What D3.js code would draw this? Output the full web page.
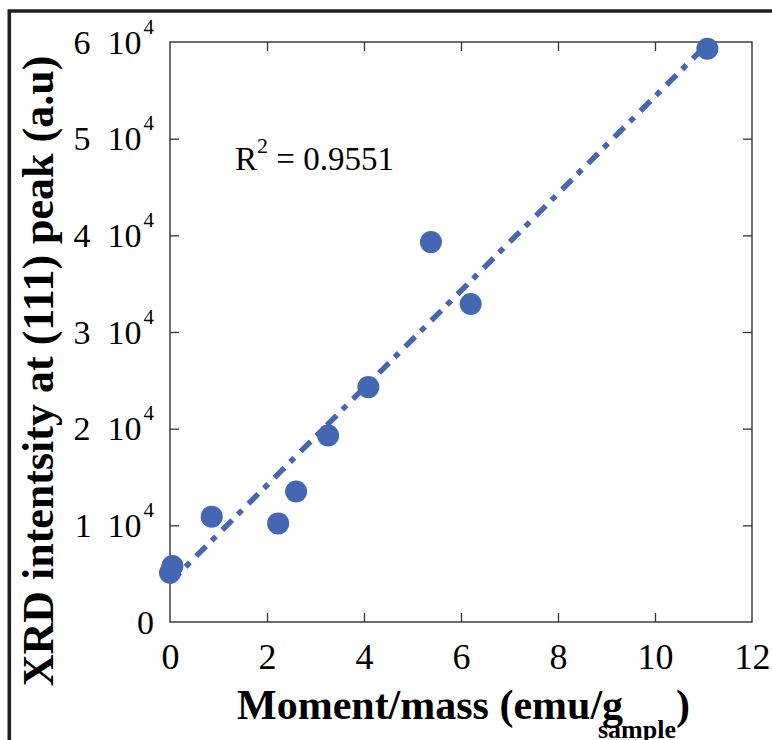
<!DOCTYPE html>
<html>
<head>
<meta charset="utf-8">
<script src="https://cdn.jsdelivr.net/npm/d3@7"></script>
<style>
  html, body { margin: 0; padding: 0; background: #ffffff; }
  svg { display: block; }
  text { font-family: "Liberation Serif", "Times New Roman", serif; fill: #000; }
</style>
</head>
<body>
<svg id="chart" width="772" height="740"></svg>
<script>
// ---- data ----
const momentMass = [0.05, 0.0, 0.86, 2.23, 2.6, 3.26, 4.09, 5.38, 6.2, 11.08];
const xrdIntensity = [5800, 5100, 10900, 10200, 13500, 19300, 24300, 39300, 32900, 59300];
const fitX = [0, 11.08];
const fitY = [4100, 59800];
const xTicks = [0, 2, 4, 6, 8, 10, 12];
const yTicks = [0, 10000, 20000, 30000, 40000, 50000, 60000];
const yTickMantissa = ["0", "1", "2", "3", "4", "5", "6"];
const r2Label = "0.9551";

(function () {
const svg = d3.select("#chart");
const W = 772, H = 740;
const mL = 170, mR = 752, mT = 42, mB = 622;
const blue = "#4467b3";

const x = d3.scaleLinear().domain([0, 12]).range([mL, mR]);
const y = d3.scaleLinear().domain([0, 60000]).range([mB, mT]);

// outer thick frame (top + left edge visible)
svg.append("path")
  .attr("d", `M9.3,${H} L9.3,11 L${W},11`)
  .attr("fill", "none")
  .attr("stroke", "#231f20")
  .attr("stroke-width", 3.6);

// axes with inward ticks
const tickLen = 9;
const gB = svg.append("g").attr("transform", `translate(0,${mB})`)
  .call(d3.axisBottom(x).tickValues(xTicks).tickSize(-tickLen).tickSizeOuter(0).tickPadding(21).tickFormat(d3.format("d")));
const gT = svg.append("g").attr("transform", `translate(0,${mT})`)
  .call(d3.axisTop(x).tickValues(xTicks).tickSize(-tickLen).tickSizeOuter(0).tickFormat(""));
const gL = svg.append("g").attr("transform", `translate(${mL},0)`)
  .call(d3.axisLeft(y).tickValues(yTicks).tickSize(-tickLen).tickSizeOuter(0).tickPadding(16).tickFormat(""));
const gR = svg.append("g").attr("transform", `translate(${mR},0)`)
  .call(d3.axisRight(y).tickValues(yTicks).tickSize(-tickLen).tickSizeOuter(0).tickFormat(""));

[gB, gT, gL, gR].forEach(g => {
  g.select(".domain").remove();
  g.selectAll(".tick line").attr("stroke", "#333").attr("stroke-width", 1.3);
  g.selectAll(".tick").filter(d => d === 0 || d === 12 || d === 60000).select("line").remove();
});
gB.selectAll(".tick text")
  .attr("font-family", "Liberation Serif, serif")
  .attr("font-size", 36)
  .attr("fill", "#000");

// y tick labels "n 10^4"
gL.selectAll(".tick text").each(function(d, i) {
  const t = d3.select(this);
  t.text(null)
    .attr("font-family", "Liberation Serif, serif")
    .attr("font-size", 34)
    .attr("fill", "#000")
    .attr("text-anchor", "end")
    .attr("dy", null)
    .attr("y", 11)
    .attr("x", -16);
  t.append("tspan").text(yTickMantissa[i]);
  if (d !== 0) {
    t.append("tspan").attr("dx", 17).text("10");
    t.append("tspan").attr("dx", 2).attr("dy", -20).attr("font-size", 21).text("4");
  }
});

// plot frame
svg.append("rect")
  .attr("x", mL).attr("y", mT)
  .attr("width", mR - mL).attr("height", mB - mT)
  .attr("fill", "none")
  .attr("stroke", "#333")
  .attr("stroke-width", 1.4);

// fit line (dash-dot)
const line = d3.line().x(d => x(d[0])).y(d => y(d[1]));
svg.append("path")
  .datum(fitX.map((v, i) => [v, fitY[i]]))
  .attr("d", line)
  .attr("fill", "none")
  .attr("stroke", blue)
  .attr("stroke-width", 5.5)
  .attr("stroke-dasharray", "14,8,6,9");

// points
svg.append("g").selectAll("circle")
  .data(momentMass.map((v, i) => [v, xrdIntensity[i]]))
  .join("circle")
  .attr("cx", d => x(d[0]))
  .attr("cy", d => y(d[1]))
  .attr("r", 11)
  .attr("fill", blue);

// R^2 annotation
const r2 = svg.append("text")
  .attr("x", 235).attr("y", 170)
  .attr("font-size", 33);
r2.append("tspan").text("R");
r2.append("tspan").attr("dy", -17).attr("font-size", 22).text("2");
r2.append("tspan").attr("dy", 17).text(" = " + r2Label);

// axis titles
const xt = svg.append("text")
  .attr("x", 237).attr("y", 719)
  .attr("font-size", 42)
  .attr("font-weight", "bold");
xt.append("tspan").text("Moment/mass (emu/g");
xt.append("tspan").attr("x", 598).attr("y", 738).attr("font-size", 26).text("sample");
xt.append("tspan").attr("x", 676).attr("y", 719).text(")");

svg.append("text")
  .attr("transform", "translate(53,371) rotate(-90)")
  .attr("text-anchor", "middle")
  .attr("font-size", 44)
  .attr("font-weight", "bold")
  .text("XRD intentsity at (111) peak (a.u)");
})();
</script>
</body>
</html>
